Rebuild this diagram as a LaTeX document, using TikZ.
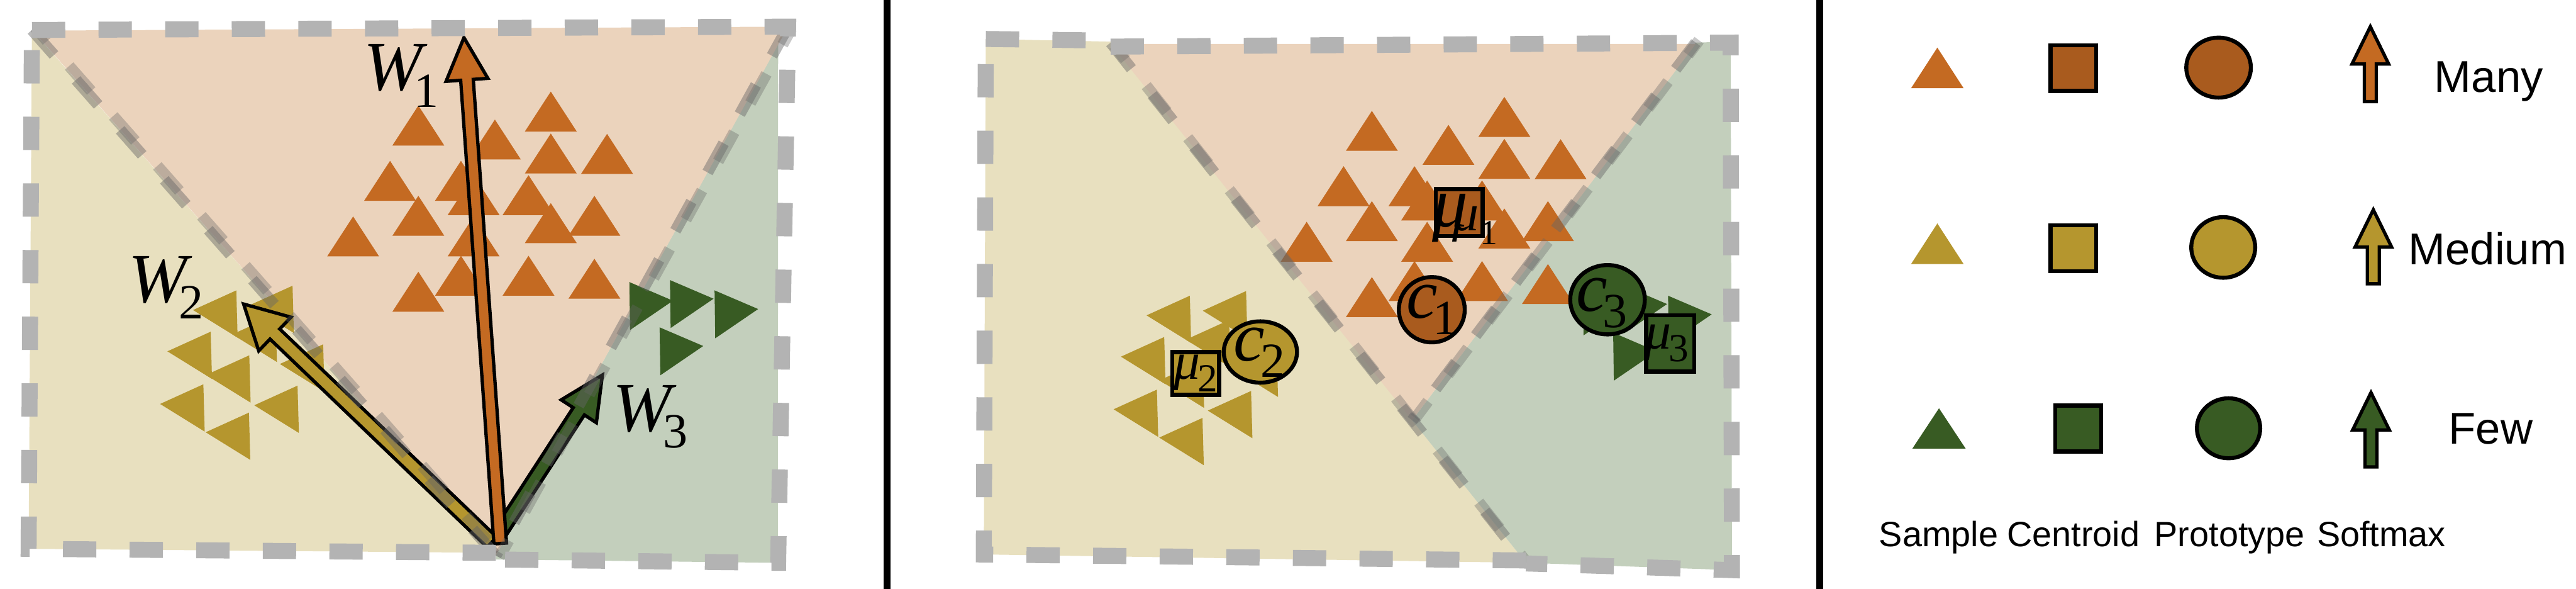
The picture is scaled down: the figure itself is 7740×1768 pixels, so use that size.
\documentclass[tikz,border=0pt]{standalone}
\usepackage{fontspec}
\setmainfont{Liberation Serif}
\newfontfamily\legendfont{Liberation Sans}
\usetikzlibrary{calc}
\definecolor{peachfill}{RGB}{235,211,188}
\definecolor{beigefill}{RGB}{232,224,191}
\definecolor{greenfill}{RGB}{195,207,188}
\definecolor{orangeS}{RGB}{196,106,34}
\definecolor{orangeC}{RGB}{169,91,30}
\definecolor{oliveS}{RGB}{181,150,46}
\definecolor{greenS}{RGB}{56,91,35}
\definecolor{dashgray}{RGB}{179,179,179}
\tikzset{
  panelborder/.style={draw=dashgray, line width=0.48cm, dash pattern=on 1cm off 1cm},
  diagA/.style={draw=black!60, draw opacity=0.45, line width=0.34cm, dash pattern=on 1cm off 1cm},
  diagB/.style={draw=black!60, draw opacity=0.35, line width=0.34cm, dash pattern=on 1cm off 1cm, dash phase=0.45cm},
  outl/.style={draw=black, line width=0.12cm},
  arr/.style={draw=black, line width=0.1cm, line join=miter},
  divider/.style={draw=black, line width=0.2cm},
  wlabel/.style={inner sep=0, anchor=base west},
  legtext/.style={font=\legendfont\fontsize{38}{38}\selectfont, anchor=base west, inner sep=0},
  coltext/.style={font=\legendfont\fontsize{30}{30}\selectfont, anchor=base, inner sep=0},
}
\newcommand\biglab[3][-4pt]{{\fontsize{60}{60}\selectfont\itshape #2}\kern#1\raisebox{-14pt}{\fontsize{42}{42}\selectfont #3}}
\newcommand\smalllab[2]{{\fontsize{45}{45}\selectfont\itshape #1}\kern-2pt\raisebox{-11pt}{\fontsize{34}{34}\selectfont #2}}
% #1 tail, #2 tip, #3 fill, #4 shaft half width, #5 head half width, #6 head length
\newcommand\fatarrow[6]{%
  \path ($(#2)!#6!(#1)$) coordinate (fab);
  \filldraw[arr, fill=#3] ($(#1)!#4!90:(#2)$) -- ($(fab)!#4!90:(#2)$) -- ($(fab)!#5!90:(#2)$) -- (#2)
     -- ($(fab)!#5!-90:(#2)$) -- ($(fab)!#4!-90:(#2)$) -- ($(#1)!#4!-90:(#2)$) -- cycle;
}
\newcommand\samples{%
  \foreach \x/\y in {1257/437,1655/395,1487/479,1655/521,1824/522,1172/603,1385/603,1423/646,1588/646,
                     1257/708,1655/730,1786/708,1061/770,1423/770,1385/888,1588/888,1786/897,1257/936}
    {\fill[orangeS] (\x,\y) +(-78,0) -- +(78,0) -- +(0,-120) -- cycle;}
  \foreach \x/\y in {710/872,879/858,633/996,828/945,749/1067,971/1034,611/1154,894/1158,748/1239}
    {\fill[oliveS] (\x,\y) -- +(-130,59) -- +(4,142) -- cycle;}
  \foreach \x/\y in {1891/847,2013/841,2147/872,1982/983}
    {\fill[greenS] (\x,\y) -- +(131,56) -- +(2,144) -- cycle;}
}
\begin{document}
\begin{tikzpicture}[x=0.01cm,y=-0.01cm]
\fill[white] (0,0) rectangle (7740,1768);
\useasboundingbox (0,0) rectangle (7740,1768);

% ---------------- Panel 1 ----------------
\fill[beigefill] (96,90) -- (1490,1668) -- (1490,1660) -- (86,1648) -- cycle;
\fill[greenfill] (2368,78) -- (2338,100) -- (2337,1690) -- (1490,1680) -- (1490,1668) -- cycle;
\fill[peachfill] (99,92) -- (2368,80) -- (1490,1668) -- cycle;
\samples
\coordinate (o1) at (1503,1632); \coordinate (t1) at (1394,113);
\coordinate (o2) at (1478,1628); \coordinate (t2) at (732,913);
\coordinate (o3) at (1503,1598); \coordinate (t3) at (1810,1126);
\fatarrow{o2}{t2}{oliveS}{0.21cm}{0.70cm}{1.30cm}
\fatarrow{o3}{t3}{greenS}{0.20cm}{0.63cm}{1.30cm}
\fatarrow{o1}{t1}{orangeS}{0.19cm}{0.63cm}{1.27cm}
\draw[diagA] (96,90) -- (1490,1668);
\draw[diagB, xshift=0.09cm, yshift=0.08cm] (96,90) -- (1490,1668);
\draw[diagA] (2368,80) -- (1490,1668);
\draw[diagB, xshift=0.10cm, yshift=-0.06cm] (2368,80) -- (1490,1668);
\draw[panelborder] (96,90) -- (2368,80) -- (2338,1690) -- (1490,1680);
\draw[panelborder] (1490,1660) -- (86,1648) -- (96,90);
\node[wlabel] (w1) at (1092,272) {\biglab[-7pt]{W}{1}};
\node[wlabel] (w2) at (386,908) {\biglab[-7pt]{W}{2}};
\node[wlabel] (w3) at (1840,1296) {\biglab[-7pt]{W}{3}};

% ---------------- Panel 2 ----------------
\fill[beigefill] (2962,117) -- (3337,125) -- (4585,1690) -- (2956,1665) -- cycle;
\fill[greenfill] (5095,128) -- (5200,125) -- (5204,1712) -- (4585,1690) -- (4243,1262) -- cycle;
\fill[peachfill] (3337,132) -- (5095,132) -- (4243,1262) -- cycle;
\begin{scope}[shift={(2865,16)}]
\samples
\end{scope}
\draw[diagA] (3337,128) -- (4585,1690);
\draw[diagB, xshift=0.10cm, yshift=-0.08cm] (3337,128) -- (4585,1690);
\draw[diagA] (5095,128) -- (4243,1262);
\draw[diagB, xshift=0.10cm, yshift=0.07cm] (5095,128) -- (4243,1262);
\draw[panelborder] (2962,117) -- (3337,122);
\draw[panelborder] (3337,140) -- (5200,128) -- (5204,1712) -- (4585,1692);
\draw[panelborder] (4585,1683) -- (2956,1665) -- (2962,117);

\draw[outl, fill=orangeC] (4314,568) rectangle (4455,709);
\node[anchor=base, inner sep=0] (mu1a) at (4358,682) {\fontsize{61}{61}\selectfont\itshape μ};
\node[anchor=base, inner sep=0] (mu1b) at (4403,692) {\fontsize{45}{45}\selectfont\itshape μ};
\node[anchor=base, inner sep=0] (mu1s) at (4473,734) {\fontsize{30}{30}\selectfont 1};
\draw[outl, fill=orangeC] (4302,930) ellipse [x radius=0.99cm, y radius=0.98cm];
\node[inner sep=0] (c1) at (4302,930) {\biglab{c}{1}};

\draw[outl, fill=oliveS] (3522,1057) rectangle (3663,1186);
\node[inner sep=0] (mu2) at (3593,1121) {\smalllab{μ}{2}};
\draw[outl, fill=oliveS] (3787,1057) ellipse [x radius=1.10cm, y radius=0.92cm];
\node[inner sep=0] (c2) at (3784,1058) {\biglab{c}{2}};

\draw[outl, fill=greenS] (4830,900) ellipse [x radius=1.12cm, y radius=1.04cm];
\node[inner sep=0] (c3) at (4813,910) {\biglab{c}{3}};
\draw[outl, fill=greenS] (4946,947) rectangle (5091,1116);
\node[inner sep=0] (mu3) at (5008,1031) {\smalllab{μ}{3}};

% ---------------- Dividers ----------------
\draw[divider] (2665,0) -- (2665,1768);
\draw[divider] (5468,0) -- (5468,1768);

% ---------------- Legend ----------------
\fill[orangeS] (5821,265) +(-79,0) -- +(79,0) -- +(0,-122) -- cycle;
\draw[outl, fill=orangeC] (6161,136) rectangle (6298,273);
\draw[outl, fill=orangeC] (6666,203) ellipse [x radius=0.97cm, y radius=0.90cm];
\coordinate (l1o) at (7122,305); \coordinate (l1t) at (7122,80);
\fatarrow{l1o}{l1t}{orangeS}{0.18cm}{0.55cm}{1.12cm}
\node[legtext] (many) at (7314,276) {Many};

\fill[oliveS] (5821,793) +(-79,0) -- +(79,0) -- +(0,-122) -- cycle;
\draw[outl, fill=oliveS] (6161,677) rectangle (6298,815);
\draw[outl, fill=oliveS] (6680,743) ellipse [x radius=0.96cm, y radius=0.91cm];
\coordinate (l2o) at (7131,852); \coordinate (l2t) at (7131,630);
\fatarrow{l2o}{l2t}{oliveS}{0.18cm}{0.55cm}{1.12cm}
\node[legtext] (medium) at (7236,795) {Medium};

\fill[greenS] (5826,1347) +(-80,0) -- +(80,0) -- +(0,-121) -- cycle;
\draw[outl, fill=greenS] (6175,1218) rectangle (6313,1356);
\draw[outl, fill=greenS] (6696,1286) ellipse [x radius=0.95cm, y radius=0.90cm];
\coordinate (l3o) at (7124,1402); \coordinate (l3t) at (7124,1179);
\fatarrow{l3o}{l3t}{greenS}{0.18cm}{0.55cm}{1.12cm}
\node[legtext] (few) at (7357,1333) {Few};

\node[coltext] (sample) at (5825,1641) {Sample};
\node[coltext] (centroid) at (6230,1641) {Centroid};
\node[coltext] (prototype) at (6699,1641) {Prototype};
\node[coltext] (softmax) at (7155,1641) {Softmax};
\end{tikzpicture}
\end{document}
